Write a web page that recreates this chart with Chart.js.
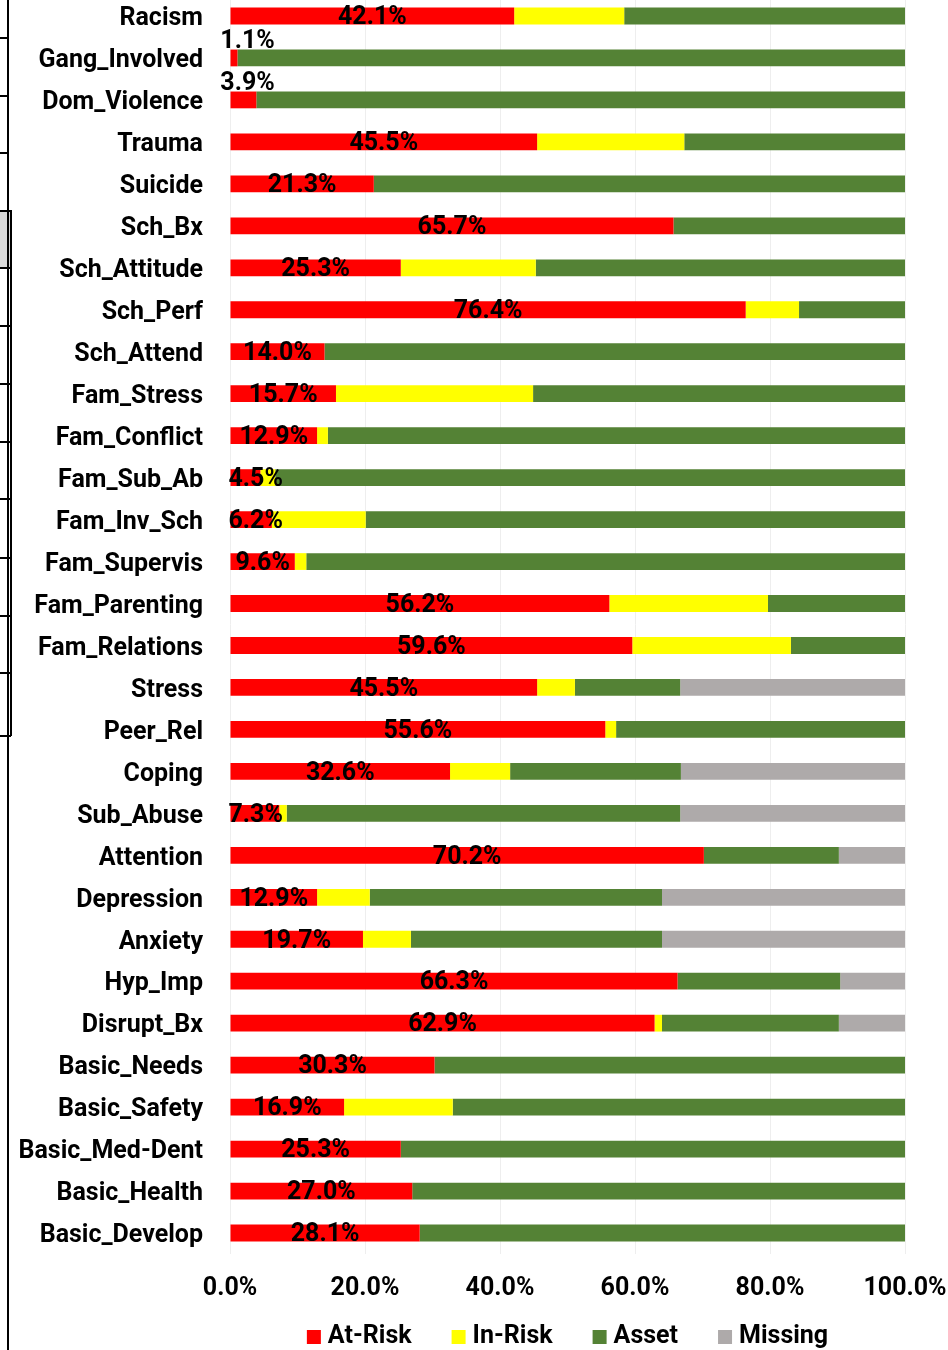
<!DOCTYPE html>
<html>
<head>
<meta charset="utf-8">
<script src="https://cdn.jsdelivr.net/npm/chart.js@4.4.0/dist/chart.umd.min.js"></script>
<style>
  body { margin: 0; background: #fff; overflow: hidden; }
  #wrap { position: absolute; left: 0; top: -6px; width: 948px; height: 1356px; }
  .ln { position: absolute; background: #000; }
</style>
</head>
<body>
<div id="wrap"><canvas id="myChart"></canvas></div>
<div id="edge"></div>
<script>
var labels = ['Racism','Gang_Involved','Dom_Violence','Trauma','Suicide','Sch_Bx','Sch_Attitude','Sch_Perf','Sch_Attend',
  'Fam_Stress','Fam_Conflict','Fam_Sub_Ab','Fam_Inv_Sch','Fam_Supervis','Fam_Parenting','Fam_Relations','Stress','Peer_Rel',
  'Coping','Sub_Abuse','Attention','Depression','Anxiety','Hyp_Imp','Disrupt_Bx','Basic_Needs','Basic_Safety',
  'Basic_Med-Dent','Basic_Health','Basic_Develop'];
var atRisk  = [42.1,1.1,3.9,45.5,21.3,65.7,25.3,76.4,14.0,15.7,12.9,4.5,6.2,9.6,56.2,59.6,45.5,55.6,32.6,7.3,70.2,12.9,19.7,66.3,62.9,30.3,16.9,25.3,27.0,28.1];
var inRisk  = [16.3,0,0,21.8,0,0,20.0,7.9,0,29.2,1.6,2.2,13.9,1.7,23.5,23.5,5.6,1.6,8.9,1.1,0,7.8,7.1,0,1.1,0,16.1,0,0,0];
var asset   = [41.6,98.9,96.1,32.7,78.7,34.3,54.7,15.7,86.0,55.1,85.5,93.3,79.9,88.7,20.3,16.9,15.6,42.8,25.3,58.3,20.0,43.3,37.2,24.1,26.2,69.7,67.0,74.7,73.0,71.9];
var missing = [0,0,0,0,0,0,0,0,0,0,0,0,0,0,0,0,33.3,0,33.2,33.3,9.8,36.0,36.0,9.6,9.8,0,0,0,0,0];
var seriesNames = ['At-Risk','In-Risk','Asset','Missing'];
var colorHex = ['#FF0000','#FFFF00','#548235','#AEAAAA'];

// bits of the spreadsheet border showing on the left edge
var edge = document.getElementById('edge');
function addLine(x, y, w, h, bg) {
  var d = document.createElement('div');
  d.className = 'ln';
  d.style.left = x + 'px'; d.style.top = y + 'px';
  d.style.width = w + 'px'; d.style.height = h + 'px';
  if (bg) d.style.background = bg;
  edge.appendChild(d);
}
addLine(0, 210, 10, 57, '#D9D9D9');
addLine(7, 0, 2, 1350);
addLine(10, 210, 2, 526);
[37, 95, 152, 210, 267, 325, 383, 441, 498, 557, 615, 672, 735].forEach(function(y) {
  addLine(0, y, y >= 210 ? 11 : 8, 2);
});

var fontName = 'Roboto';
var lblFont = { family: fontName, size: 25, weight: 'bold' };

var atRiskLabels = {
  id: 'atRiskLabels',
  afterDatasetsDraw: function(chart) {
    var ctx = chart.ctx;
    var meta = chart.getDatasetMeta(0);
    ctx.save();
    ctx.font = 'bold 25px ' + fontName;
    ctx.fillStyle = '#000';
    ctx.textAlign = 'center';
    ctx.textBaseline = 'middle';
    meta.data.forEach(function(bar, i) {
      var v = atRisk[i];
      var txt = v.toFixed(1) + '%';
      var w = ctx.measureText(txt).width;
      if (v < 4) {
        ctx.fillText(txt, bar.base + 17, bar.y - 16);
      } else {
        var x = Math.max((bar.base + bar.x) / 2, bar.base + w / 2 - 2);
        ctx.fillText(txt, x, bar.y + 2);
      }
    });
    ctx.restore();
  }
};

var bottomLegend = {
  id: 'bottomLegend',
  afterDraw: function(chart) {
    var ctx = chart.ctx;
    var area = chart.chartArea;
    ctx.save();
    ctx.font = 'bold 25px ' + fontName;
    ctx.textBaseline = 'middle';
    var box = 14, gap = 7, spacing = 40;
    var widths = seriesNames.map(function(n) { return box + gap + ctx.measureText(n).width; });
    var total = widths.reduce(function(a, b) { return a + b; }, 0) + spacing * (seriesNames.length - 1);
    var x = (area.left + area.right) / 2 - total / 2;
    var y = chart.height - 13;
    seriesNames.forEach(function(n, i) {
      ctx.fillStyle = colorHex[i];
      ctx.fillRect(x, y - box / 2, box, box);
      ctx.fillStyle = '#000';
      ctx.fillText(n, x + box + gap, y);
      x += widths[i] + spacing;
    });
    ctx.restore();
  }
};

var ctx = document.getElementById('myChart').getContext('2d');
var seriesData = [atRisk, inRisk, asset, missing];
var myChart = new Chart(ctx, {
  type: 'bar',
  data: {
    labels: labels,
    datasets: seriesData.map(function(d, i) {
      return {
        label: seriesNames[i],
        data: d,
        backgroundColor: colorHex[i],
        borderWidth: 0,
        barPercentage: 0.8,
        categoryPercentage: 0.5
      };
    })
  },
  options: {
    indexAxis: 'y',
    responsive: true,
    maintainAspectRatio: false,
    animation: false,
    layout: { padding: { top: 1, right: 43, bottom: 48, left: 0 } },
    plugins: {
      legend: { display: false },
      tooltip: { enabled: false }
    },
    scales: {
      x: {
        stacked: true,
        min: 0,
        max: 100,
        afterFit: function(scale) {
          scale.height = 48;
          scale.paddingLeft = 0;
          scale.paddingRight = 0;
        },
        ticks: {
          stepSize: 20,
          padding: 20,
          color: '#000',
          font: lblFont,
          maxRotation: 0,
          callback: function(v) { return v.toFixed(1) + '%'; }
        },
        grid: { color: '#EEEEEE', drawTicks: false },
        border: { display: false }
      },
      y: {
        stacked: true,
        afterFit: function(scale) {
          scale.width = 230;
          scale.paddingTop = 0;
          scale.paddingBottom = 0;
        },
        ticks: { padding: 27, labelOffset: 3, color: '#000', font: lblFont, autoSkip: false },
        grid: { display: false, drawTicks: false },
        border: { display: false }
      }
    }
  },
  plugins: [atRiskLabels, bottomLegend]
});
</script>
</body>
</html>
